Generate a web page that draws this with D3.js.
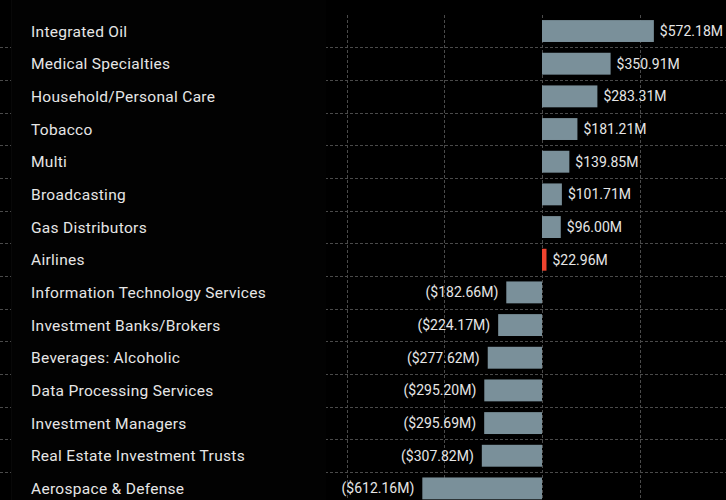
<!DOCTYPE html>
<html>
<head>
<meta charset="utf-8">
<script src="https://cdn.jsdelivr.net/npm/d3@7"></script>
<style>
  html, body { margin: 0; padding: 0; background: #000; overflow: hidden; }
  svg { display: block; }
</style>
</head>
<body>
<svg id="chart" width="726" height="500"></svg>
<script>
const categories = [
  "Integrated Oil", "Medical Specialties", "Household/Personal Care", "Tobacco",
  "Multi", "Broadcasting", "Gas Distributors", "Airlines",
  "Information Technology Services", "Investment Banks/Brokers", "Beverages: Alcoholic",
  "Data Processing Services", "Investment Managers", "Real Estate Investment Trusts",
  "Aerospace & Defense"
];
const values = [
  572.18, 350.91, 283.31, 181.21, 139.85, 101.71, 96.00, 22.96,
  -182.66, -224.17, -277.62, -295.20, -295.69, -307.82, -612.16
];
const highlighted = ["Airlines"];
const gridTicks = [-1000, -500, 0, 500, 1000];

const W = 726, H = 500;
const svg = d3.select("#chart");
const font = "Roboto, 'Noto Sans', sans-serif";

svg.append("rect").attr("width", W).attr("height", H).attr("fill", "#000");

const data = categories.map((c, i) => ({ cat: c, val: values[i] }));

const x = d3.scaleLinear().domain([-1000, 1000]).range([346.5, 737.5]);
const y = d3.scaleBand().domain(categories).range([14.7, 14.7 + 32.67 * 15])
  .paddingInner(0.33).paddingOuter(0.165);
const step = y.step();
const off = step * 0.165;

// horizontal grid lines (band boundaries)
const gridColor = "#4a4a4a";
svg.append("g").selectAll("line").data(categories.slice(1)).join("line")
  .attr("x1", 0).attr("x2", W)
  .attr("y1", d => Math.round(y(d) - off) + 0.5)
  .attr("y2", d => Math.round(y(d) - off) + 0.5)
  .attr("stroke", gridColor).attr("stroke-width", 1).attr("stroke-dasharray", "3,2");

// vertical grid lines
svg.append("g").selectAll("line").data(gridTicks).join("line")
  .attr("x1", d => Math.round(x(d)) + 0.5).attr("x2", d => Math.round(x(d)) + 0.5)
  .attr("y1", 15).attr("y2", H)
  .attr("stroke", gridColor).attr("stroke-width", 1).attr("stroke-dasharray", "3,2");

// label panel
svg.append("rect").attr("x", 11).attr("y", 0).attr("width", 315).attr("height", H).attr("fill", "#020202");
svg.append("rect").attr("x", 11).attr("y", 0).attr("width", 1).attr("height", H).attr("fill", "#080808");

// bars
svg.append("g").selectAll("rect").data(data).join("rect")
  .attr("x", d => x(Math.min(0, d.val)))
  .attr("width", d => Math.abs(x(d.val) - x(0)))
  .attr("y", d => y(d.cat))
  .attr("height", y.bandwidth())
  .attr("fill", d => highlighted.includes(d.cat) ? "#f0432e" : "#7a909a");

// category labels
svg.append("g").selectAll("text").data(data).join("text")
  .attr("x", 31)
  .attr("y", d => y(d.cat) + y.bandwidth() / 2)
  .attr("dy", "0.36em")
  .attr("fill", "#e6e6e6")
  .attr("font-family", font)
  .attr("font-size", 15.5)
  .attr("letter-spacing", "0.3px")
  .text(d => d.cat);

// value labels
const fmt = v => {
  const s = "$" + d3.format(",.2f")(Math.abs(v)) + "M";
  return v < 0 ? "(" + s + ")" : s;
};
svg.append("g").selectAll("text").data(data).join("text")
  .attr("x", d => d.val >= 0 ? x(d.val) + 6 : x(d.val) - 8)
  .attr("text-anchor", d => d.val >= 0 ? "start" : "end")
  .attr("y", d => y(d.cat) + y.bandwidth() / 2)
  .attr("dy", "0.36em")
  .attr("fill", "#e6e6e6")
  .attr("font-family", font)
  .attr("font-size", 14)
  .text(d => fmt(d.val));
</script>
</body>
</html>
